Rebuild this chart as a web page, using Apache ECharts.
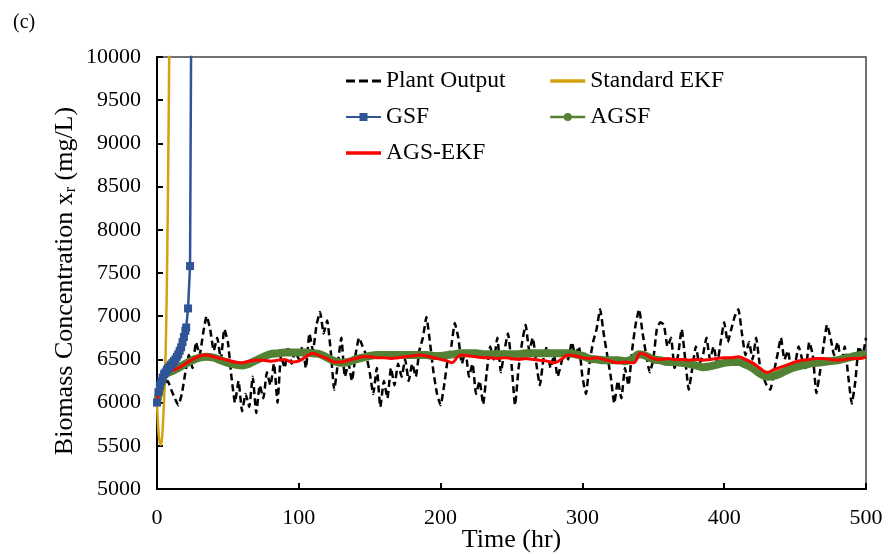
<!DOCTYPE html>
<html>
<head>
<meta charset="utf-8">
<script src="https://cdn.jsdelivr.net/npm/echarts@6/dist/echarts.min.js"></script>
<style>
  html, body { margin: 0; padding: 0; background: #fff; }
  #chart { width: 889px; height: 554px; }
</style>
</head>
<body>
<div id="chart"></div>
<script>
// plant output, one value every 2.5 hr from 0 to 500
const plantStep = 2.5
const plantOutput = [
  6000, 6100, 6200, 6250, 6150, 6050, 5970, 6100, 6350, 6550,
  6400, 6700, 6550, 6800, 7000, 6850, 6600, 6750, 6500, 6850,
  6700, 6300, 6000, 6250, 5900, 6100, 5950, 6300, 5880, 6200,
  6050, 6350, 6200, 6450, 6000, 6550, 6400, 6650, 6450, 6600,
  6500, 6650, 6400, 6800, 6600, 6900, 7050, 6800, 6950, 6600,
  6150, 6450, 6750, 6300, 6450, 6250, 6550, 6750, 6650, 6550,
  6350, 6100, 6400, 5950, 6250, 6050, 6400, 6200, 6450, 6300,
  6500, 6250, 6450, 6300, 6600, 6750, 6990, 6700, 6350, 6100,
  5970, 6200, 6500, 6650, 6920, 6750, 6450, 6600, 6300, 6450,
  6100, 6250, 5980, 6350, 6650, 6500, 6750, 6350, 6600, 6800,
  6450, 5970, 6400, 6700, 6900, 6600, 6750, 6450, 6200, 6500,
  6650, 6400, 6550, 6300, 6450, 6600, 6500, 6700, 6550, 6650,
  6300, 6100, 6450, 6700, 6850, 7080, 6800, 6550, 6300, 5990,
  6250, 6050, 6400, 6200, 6600, 6900, 7080, 6800, 6550, 6350,
  6500, 6850, 6930, 6900, 6650, 6750, 6400, 6550, 6850, 6500,
  6150, 6400, 6650, 6450, 6550, 6750, 6500, 6650, 6450, 6700,
  6930, 6700, 6850, 7000, 7080, 6800, 6550, 6700, 6500, 6750,
  6450, 6300, 6200, 6150, 6350, 6550, 6750, 6500, 6600, 6350,
  6450, 6650, 6500, 6400, 6700, 6550, 6110, 6350, 6650, 6900,
  6750, 6550, 6700, 6450, 6650, 6300, 5990, 6250, 6650, 6550, 6750
]

const ekfTime   = [0, 0.7, 1.5, 2.5, 3.5, 4.5, 5.5, 6.5, 7.3, 8, 8.6, 9.2]
const ekfValues = [6000, 5750, 5580, 5510, 5580, 5850, 6250, 6900, 7800, 8900, 10000, 11500]

const gsfTime   = [0, 1, 2, 3, 4, 5, 6, 7, 8, 9, 10, 11, 12, 13, 14, 15, 16, 17, 18, 19, 20, 20.6, 21.9, 23.3, 24.6]
const gsfValues = [6000, 6120, 6200, 6250, 6290, 6330, 6350, 6380, 6400, 6420, 6440, 6460, 6480, 6500,
                   6530, 6560, 6600, 6640, 6700, 6760, 6830, 6870, 7090, 7580, 12000]

const agsfTime = [0, 2, 4, 6, 10, 15, 20, 25, 30, 35, 40, 45, 50, 55, 60, 65, 70, 75, 80, 85, 90, 95,
  100, 105, 110, 115, 120, 125, 130, 135, 140, 145, 150, 155, 160, 165, 170, 175, 180, 185, 190, 195,
  200, 205, 210, 215, 220, 225, 230, 235, 240, 245, 250, 255, 260, 265, 270, 275, 280, 285, 290, 295,
  300, 305, 310, 315, 320, 325, 330, 335, 340, 345, 350, 355, 360, 365, 370, 375, 380, 385, 390, 395,
  400, 405, 410, 415, 420, 425, 430, 435, 440, 445, 450, 455, 460, 465, 470, 475, 480, 485, 490, 495, 500]
const agsfValues = [6000, 6150, 6280, 6330, 6360, 6400, 6450, 6490, 6520, 6530, 6520, 6490, 6460, 6440,
  6430, 6450, 6490, 6530, 6560, 6570, 6580, 6580, 6580, 6580, 6570, 6560, 6520, 6480, 6460, 6470, 6500,
  6520, 6540, 6550, 6550, 6550, 6550, 6550, 6550, 6550, 6550, 6540, 6540, 6550, 6560, 6570, 6570, 6570,
  6560, 6560, 6560, 6560, 6560, 6560, 6570, 6570, 6570, 6570, 6570, 6570, 6570, 6560, 6540, 6510, 6500,
  6490, 6490, 6490, 6480, 6500, 6560, 6540, 6500, 6490, 6470, 6470, 6460, 6450, 6430, 6410, 6420, 6440,
  6460, 6470, 6470, 6440, 6400, 6340, 6300, 6310, 6340, 6380, 6410, 6430, 6450, 6460, 6470, 6480, 6490,
  6510, 6530, 6550, 6560]

const agsEkfTime = [0, 2, 4, 6, 10, 15, 20, 25, 30, 35, 40, 45, 50, 55, 60, 65, 70, 75, 80, 85, 90, 95,
  100, 105, 110, 115, 120, 125, 130, 135, 140, 145, 150, 155, 160, 165, 170, 175, 180, 185, 190, 195,
  200, 205, 208, 212, 215, 220, 225, 230, 235, 240, 245, 250, 255, 260, 265, 270, 275, 280, 285, 290,
  295, 300, 305, 310, 315, 320, 324, 330, 336, 341, 345, 350, 355, 360, 365, 370, 375, 380, 385, 390,
  395, 400, 405, 410, 415, 420, 425, 430, 435, 440, 445, 450, 455, 460, 465, 470, 475, 480, 485, 490, 495, 500]
const agsEkfValues = [6000, 6200, 6300, 6330, 6370, 6400, 6450, 6500, 6540, 6550, 6530, 6510, 6490, 6470,
  6460, 6480, 6490, 6490, 6480, 6490, 6500, 6470, 6480, 6530, 6570, 6540, 6510, 6470, 6470, 6490, 6510,
  6530, 6530, 6520, 6520, 6510, 6520, 6530, 6540, 6550, 6540, 6520, 6500, 6480, 6460, 6530, 6550, 6540,
  6530, 6520, 6520, 6510, 6520, 6510, 6500, 6510, 6500, 6490, 6480, 6460, 6500, 6550, 6540, 6520, 6510,
  6520, 6500, 6480, 6460, 6470, 6460, 6570, 6550, 6510, 6500, 6510, 6500, 6500, 6490, 6500, 6490, 6500,
  6510, 6520, 6520, 6530, 6500, 6460, 6400, 6350, 6380, 6410, 6440, 6470, 6490, 6500, 6510, 6510, 6500,
  6490, 6500, 6510, 6510, 6530]

const pairs = (xs, ys) => xs.map((x, i) => [x, ys[i]])
const plantData = plantOutput.map((v, i) => [i * plantStep, v])

const serif = 'Liberation Serif'
var myChart = echarts.init(document.getElementById('chart'))

const legendText = { fontFamily: serif, fontSize: 23.5, color: '#000', lineHeight: 24 }
const plainLine = 'path://M0,0h40v4h-40z'
const dashedLine = 'path://M0,0h9v3h-9z M13,0h9v3h-9z M26,0h9v3h-9z'

var option = {
  animation: false,
  title: {
    text: '(c)', left: 8, top: 8,
    textStyle: { fontFamily: serif, fontSize: 20, fontWeight: 'normal', color: '#000' }
  },
  grid: {
    left: 157, right: 23, top: 57, bottom: 65, outerBoundsMode: 'none', containLabel: false,
    show: true, borderColor: '#444', borderWidth: 1.5, backgroundColor: 'transparent'
  },
  legend: [
    {
      left: 340, top: 64, orient: 'vertical', itemWidth: 35, itemHeight: 10, itemGap: 12,
      textStyle: legendText,
      data: [{ name: 'Plant Output', icon: dashedLine }, 'GSF', { name: 'AGS-EKF', icon: plainLine }]
    },
    {
      left: 544, top: 64, orient: 'vertical', itemWidth: 35, itemHeight: 10, itemGap: 12,
      textStyle: legendText,
      data: [{ name: 'Standard EKF', icon: plainLine }, { name: 'AGSF', lineStyle: { width: 2.5 } }]
    }
  ],
  xAxis: {
    type: 'value', min: 0, max: 500, interval: 100,
    name: 'Time (hr)', nameLocation: 'middle', nameGap: 38, nameMoveOverlap: false,
    nameTextStyle: { fontFamily: serif, fontSize: 26, color: '#000' },
    axisLine: { lineStyle: { color: '#000', width: 2 } },
    axisTick: { inside: true, length: 6, lineStyle: { color: '#000', width: 2 } },
    axisLabel: { fontFamily: serif, fontSize: 22, color: '#000', margin: 18 },
    splitLine: { show: false }
  },
  yAxis: {
    type: 'value', min: 5000, max: 10000, interval: 500,
    name: 'Biomass Concentration x{sub|r} (mg/L)', nameLocation: 'middle', nameGap: 78, nameMoveOverlap: false,
    nameTextStyle: {
      fontFamily: serif, fontSize: 26, color: '#000', padding: [0, 16, 0, 0],
      rich: { sub: { fontFamily: serif, fontSize: 16, color: '#000', padding: [11, 0, 0, 0] } }
    },
    axisLine: { show: true, lineStyle: { color: '#000', width: 2 } },
    axisTick: { show: true, inside: true, length: 6, lineStyle: { color: '#000', width: 2 } },
    axisLabel: { fontFamily: serif, fontSize: 22, color: '#000', margin: 16, formatter: v => String(v) },
    splitLine: { show: false }
  },
  series: [
    {
      name: 'Plant Output', type: 'line', data: plantData, symbol: 'none', smooth: 0.15,
      lineStyle: { color: '#000', width: 2.5, type: [7, 4] }, itemStyle: { color: '#000' }
    },
    {
      name: 'Standard EKF', type: 'line', data: pairs(ekfTime, ekfValues), symbol: 'none', smooth: 0.4,
      lineStyle: { color: '#D4A20C', width: 2.5 }, itemStyle: { color: '#D4A20C' }
    },
    {
      name: 'GSF', type: 'line', data: pairs(gsfTime, gsfValues), symbol: 'rect', symbolSize: 8,
      lineStyle: { color: '#2F5597', width: 2.5 }, itemStyle: { color: '#2F5597' }
    },
    {
      name: 'AGSF', type: 'line', data: pairs(agsfTime, agsfValues), symbol: 'circle', symbolSize: 5,
      showSymbol: false, smooth: 0.4,
      lineStyle: { color: '#548235', width: 8 }, itemStyle: { color: '#548235' }
    },
    {
      name: 'AGS-EKF', type: 'line', data: pairs(agsEkfTime, agsEkfValues), symbol: 'none', smooth: 0.4,
      lineStyle: { color: '#FF0000', width: 3 }, itemStyle: { color: '#FF0000' }
    }
  ]
}

myChart.setOption(option)
</script>
</body>
</html>
